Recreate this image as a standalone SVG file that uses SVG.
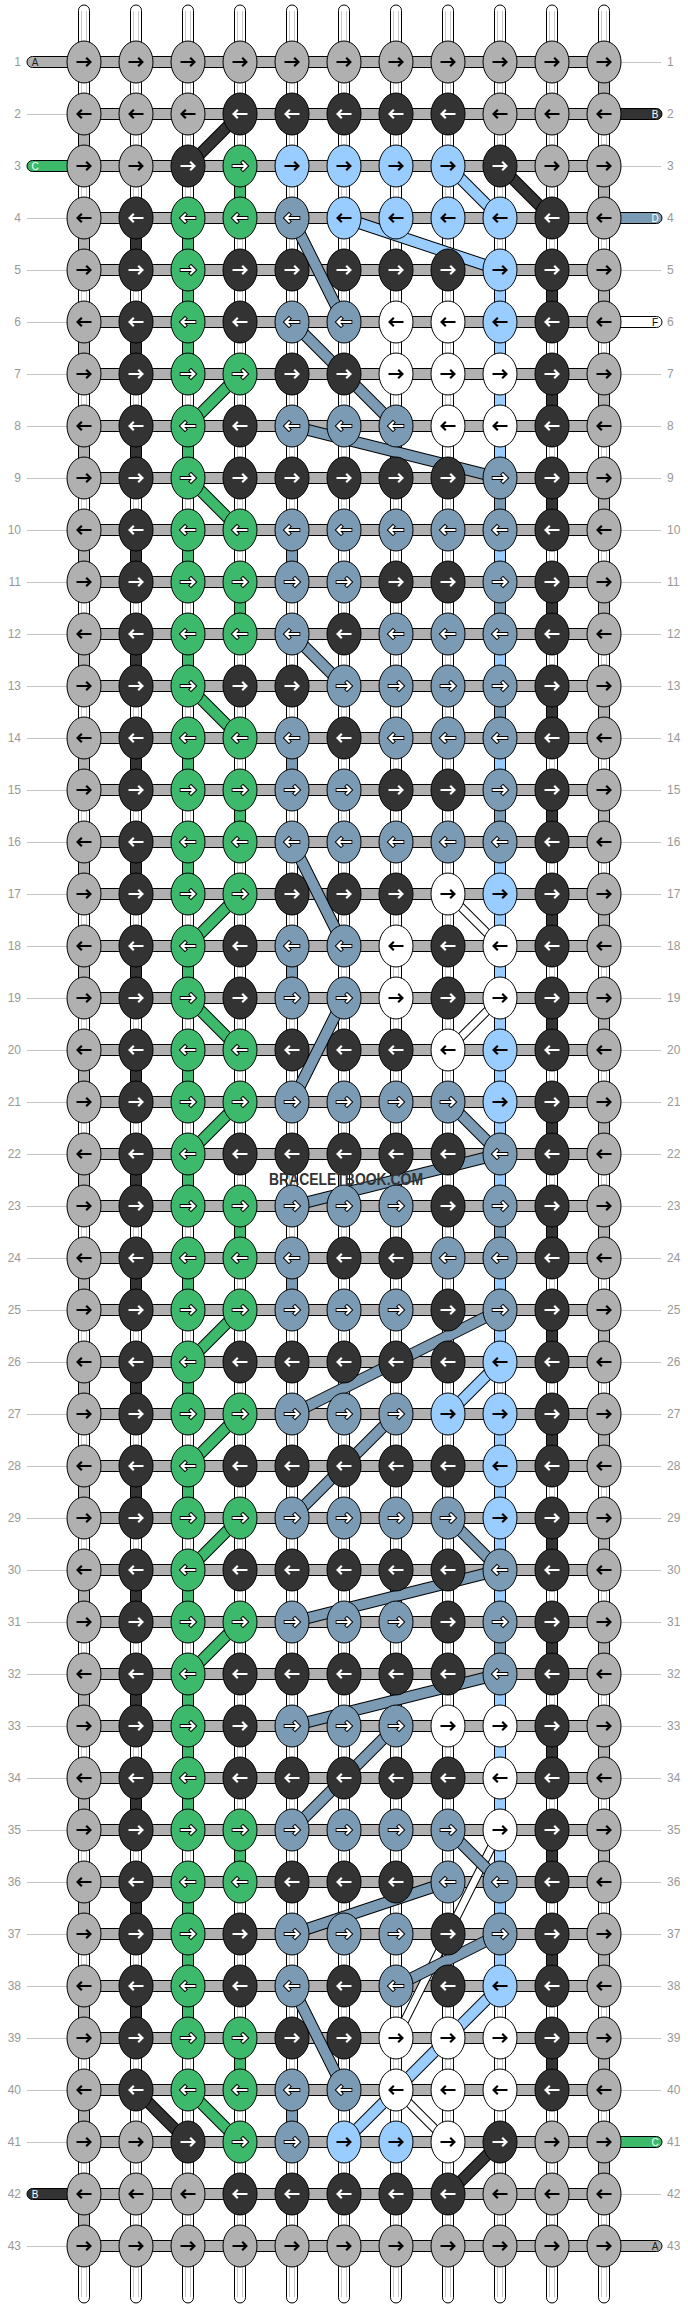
<svg xmlns="http://www.w3.org/2000/svg" width="688" height="2308" viewBox="0 0 688 2308">
<style>
.G{fill:#b0b0b0;color:#000;stroke:none}
.D{fill:#333;color:#fff;stroke:none}
.N{fill:#3cb96a;color:#fff;stroke:#000}
.B{fill:#7b9bb4;color:#fff;stroke:#000}
.L{fill:#99ccff;color:#000;stroke:none}
.W{fill:#fff;color:#000;stroke:none}
.num{font-family:"Liberation Sans",Arial,sans-serif;font-size:12px;fill:#999}
.nl{text-anchor:end}
.lab{font-family:"Liberation Sans",Arial,sans-serif;font-size:10px;text-anchor:middle}
.guide{fill:none;stroke:#c4c4c4;stroke-width:1}
.warp{fill:#fff;stroke:#000;stroke-width:1}
.wi{fill:none;stroke:#c8c8c8;stroke-width:1}
.seg{stroke:#000;stroke-width:1}
.bar{fill:#b0b0b0;stroke:#000;stroke-width:1}
.bo{fill:none;stroke:#000;stroke-width:12}
.bow{fill:none;stroke:#000;stroke-width:9}
.band{fill:none;stroke-width:10}
.bandw{fill:none;stroke:#fff;stroke-width:7}
.wm{font-family:"Liberation Sans",Arial,sans-serif;font-weight:bold;font-size:16px;fill:#333}
</style>
<defs>
<g id="R"><ellipse rx="17" ry="21" stroke="#000" stroke-width="1"/><path d="M-8.3 0H6M1.6-4.9 6.4 0 1.6 4.9" fill="none" stroke-width="4.2"/><path d="M-7.5 0H6M2.2-4.2 6.4 0 2.2 4.2" fill="none" stroke="currentColor" stroke-width="2.2"/></g>
<g id="L"><ellipse rx="17" ry="21" stroke="#000" stroke-width="1"/><path d="M8.3 0H-6M-1.6-4.9-6.4 0-1.6 4.9" fill="none" stroke-width="4.2"/><path d="M7.5 0H-6M-2.2-4.2-6.4 0-2.2 4.2" fill="none" stroke="currentColor" stroke-width="2.2"/></g>
</defs>
<g id="guides">
<path class="guide" d="M27 62.5H661M27 114.5H661M27 166.5H661M27 218.5H661M27 270.5H661M27 322.5H661M27 374.5H661M27 426.5H661M27 478.5H661M27 530.5H661M27 582.5H661M27 634.5H661M27 686.5H661M27 738.5H661M27 790.5H661M27 842.5H661M27 894.5H661M27 946.5H661M27 998.5H661M27 1050.5H661M27 1102.5H661M27 1154.5H661M27 1206.5H661M27 1258.5H661M27 1310.5H661M27 1362.5H661M27 1414.5H661M27 1466.5H661M27 1518.5H661M27 1570.5H661M27 1622.5H661M27 1674.5H661M27 1726.5H661M27 1778.5H661M27 1830.5H661M27 1882.5H661M27 1934.5H661M27 1986.5H661M27 2038.5H661M27 2090.5H661M27 2142.5H661M27 2194.5H661M27 2246.5H661"/>
</g>
<g id="connectors">
<g id="warps" class="warp">
<rect x="78.5" y="5" width="11" height="2298" rx="5.5"/>
<rect x="130.5" y="5" width="11" height="2298" rx="5.5"/>
<rect x="182.5" y="5" width="11" height="2298" rx="5.5"/>
<rect x="234.5" y="5" width="11" height="2298" rx="5.5"/>
<rect x="286.5" y="5" width="11" height="2298" rx="5.5"/>
<rect x="338.5" y="5" width="11" height="2298" rx="5.5"/>
<rect x="390.5" y="5" width="11" height="2298" rx="5.5"/>
<rect x="442.5" y="5" width="11" height="2298" rx="5.5"/>
<rect x="494.5" y="5" width="11" height="2298" rx="5.5"/>
<rect x="546.5" y="5" width="11" height="2298" rx="5.5"/>
<rect x="598.5" y="5" width="11" height="2298" rx="5.5"/>
</g>
<path class="wi" d="M81.5 11V2297M86.5 11V2297M133.5 11V2297M138.5 11V2297M185.5 11V2297M190.5 11V2297M237.5 11V2297M242.5 11V2297M289.5 11V2297M294.5 11V2297M341.5 11V2297M346.5 11V2297M393.5 11V2297M398.5 11V2297M445.5 11V2297M450.5 11V2297M497.5 11V2297M502.5 11V2297M549.5 11V2297M554.5 11V2297M601.5 11V2297M606.5 11V2297"/>
<path id="seg-gray" class="seg" fill="#b0b0b0" d="M78.5 114h11v52h-11zM78.5 218h11v52h-11zM78.5 322h11v52h-11zM78.5 426h11v52h-11zM78.5 530h11v52h-11zM78.5 634h11v52h-11zM78.5 738h11v52h-11zM78.5 842h11v52h-11zM78.5 946h11v52h-11zM78.5 1050h11v52h-11zM78.5 1154h11v52h-11zM78.5 1258h11v52h-11zM78.5 1362h11v52h-11zM78.5 1466h11v52h-11zM78.5 1570h11v52h-11zM78.5 1674h11v52h-11zM78.5 1778h11v52h-11zM78.5 1882h11v52h-11zM78.5 1986h11v52h-11zM78.5 2090h11v52h-11zM78.5 2194h11v52h-11zM598.5 62h11v52h-11zM598.5 166h11v52h-11zM598.5 270h11v52h-11zM598.5 374h11v52h-11zM598.5 478h11v52h-11zM598.5 582h11v52h-11zM598.5 686h11v52h-11zM598.5 790h11v52h-11zM598.5 894h11v52h-11zM598.5 998h11v52h-11zM598.5 1102h11v52h-11zM598.5 1206h11v52h-11zM598.5 1310h11v52h-11zM598.5 1414h11v52h-11zM598.5 1518h11v52h-11zM598.5 1622h11v52h-11zM598.5 1726h11v52h-11zM598.5 1830h11v52h-11zM598.5 1934h11v52h-11zM598.5 2038h11v52h-11zM598.5 2142h11v52h-11z"/>
<path id="seg-dark" class="seg" fill="#333" d="M130.5 218h11v52h-11zM130.5 322h11v52h-11zM130.5 426h11v52h-11zM130.5 530h11v52h-11zM130.5 634h11v52h-11zM130.5 738h11v52h-11zM130.5 842h11v52h-11zM130.5 946h11v52h-11zM130.5 1050h11v52h-11zM130.5 1154h11v52h-11zM130.5 1258h11v52h-11zM130.5 1362h11v52h-11zM130.5 1466h11v52h-11zM130.5 1570h11v52h-11zM130.5 1674h11v52h-11zM130.5 1778h11v52h-11zM130.5 1882h11v52h-11zM130.5 1986h11v52h-11zM546.5 270h11v52h-11zM546.5 374h11v52h-11zM546.5 478h11v52h-11zM546.5 582h11v52h-11zM546.5 686h11v52h-11zM546.5 790h11v52h-11zM546.5 894h11v52h-11zM546.5 998h11v52h-11zM546.5 1102h11v52h-11zM546.5 1206h11v52h-11zM546.5 1310h11v52h-11zM546.5 1414h11v52h-11zM546.5 1518h11v52h-11zM546.5 1622h11v52h-11zM546.5 1726h11v52h-11zM546.5 1830h11v52h-11zM546.5 1934h11v52h-11zM546.5 2038h11v52h-11z"/>
<path id="seg-green" class="seg" fill="#3cb96a" d="M182.5 218h11v156h-11zM182.5 426h11v52h-11zM182.5 530h11v52h-11zM182.5 634h11v52h-11zM182.5 738h11v52h-11zM182.5 842h11v52h-11zM182.5 946h11v52h-11zM182.5 1050h11v52h-11zM182.5 1154h11v52h-11zM182.5 1258h11v52h-11zM182.5 1362h11v52h-11zM182.5 1466h11v52h-11zM182.5 1570h11v52h-11zM182.5 1674h11v156h-11zM182.5 1882h11v156h-11zM234.5 166h11v52h-11zM234.5 582h11v52h-11zM234.5 790h11v52h-11zM234.5 1206h11v52h-11zM234.5 1830h11v52h-11zM234.5 2038h11v52h-11z"/>
<path id="seg-bluegray" class="seg" fill="#7b9bb4" d="M494.5 478h11v52h-11zM494.5 582h11v52h-11zM494.5 686h11v52h-11zM494.5 790h11v52h-11zM494.5 1206h11v52h-11zM494.5 1622h11v52h-11zM286.5 530h11v52h-11zM286.5 738h11v52h-11zM286.5 946h11v52h-11zM286.5 1258h11v52h-11zM286.5 2090h11v52h-11z"/>
<path id="seg-lightblue" class="seg" fill="#99ccff" d="M494.5 270h11v208h-11zM494.5 530h11v52h-11zM494.5 634h11v52h-11zM494.5 738h11v52h-11zM494.5 842h11v364h-11zM494.5 1258h11v104h-11zM494.5 1414h11v208h-11zM494.5 1674h11v312h-11z"/>
<path id="weft-bars" class="bar" d="M84 56.5h520v11h-520zM84 108.5h520v11h-520zM84 160.5h520v11h-520zM84 212.5h520v11h-520zM84 264.5h520v11h-520zM84 316.5h520v11h-520zM84 368.5h520v11h-520zM84 420.5h520v11h-520zM84 472.5h520v11h-520zM84 524.5h520v11h-520zM84 576.5h520v11h-520zM84 628.5h520v11h-520zM84 680.5h520v11h-520zM84 732.5h520v11h-520zM84 784.5h520v11h-520zM84 836.5h520v11h-520zM84 888.5h520v11h-520zM84 940.5h520v11h-520zM84 992.5h520v11h-520zM84 1044.5h520v11h-520zM84 1096.5h520v11h-520zM84 1148.5h520v11h-520zM84 1200.5h520v11h-520zM84 1252.5h520v11h-520zM84 1304.5h520v11h-520zM84 1356.5h520v11h-520zM84 1408.5h520v11h-520zM84 1460.5h520v11h-520zM84 1512.5h520v11h-520zM84 1564.5h520v11h-520zM84 1616.5h520v11h-520zM84 1668.5h520v11h-520zM84 1720.5h520v11h-520zM84 1772.5h520v11h-520zM84 1824.5h520v11h-520zM84 1876.5h520v11h-520zM84 1928.5h520v11h-520zM84 1980.5h520v11h-520zM84 2032.5h520v11h-520zM84 2084.5h520v11h-520zM84 2136.5h520v11h-520zM84 2188.5h520v11h-520zM84 2240.5h520v11h-520z"/>
<g id="stubs" class="seg">
<rect x="27" y="56.5" width="70" height="11" rx="5.5" fill="#b0b0b0"/>
<rect x="27" y="160.5" width="70" height="11" rx="5.5" fill="#3cb96a"/>
<rect x="27" y="2188.5" width="70" height="11" rx="5.5" fill="#333"/>
<rect x="590" y="108.5" width="72" height="11" rx="5.5" fill="#333"/>
<rect x="590" y="212.5" width="72" height="11" rx="5.5" fill="#7b9bb4"/>
<rect x="590" y="316.5" width="72" height="11" rx="5.5" fill="#fff"/>
<rect x="590" y="2136.5" width="72" height="11" rx="5.5" fill="#3cb96a"/>
<rect x="590" y="2240.5" width="72" height="11" rx="5.5" fill="#b0b0b0"/>
</g>
<g id="bands">
<path class="bow" d="M448 894L500 946M500 998L448 1050M500 1830L396 2038M396 2090L448 2142"/>
<path class="bandw" d="M448 894L500 946M500 998L448 1050M500 1830L396 2038M396 2090L448 2142"/>
<path class="bo" d="M448 166L500 218M344 218L500 270M500 1362L448 1414M500 1986L344 2142"/>
<path class="band" stroke="#99ccff" d="M448 166L500 218M344 218L500 270M500 1362L448 1414M500 1986L344 2142"/>
<path class="bo" d="M292 218L344 322M292 322L396 426M292 426L500 478M292 634L344 686M292 842L344 946M344 998L292 1102M448 1102L500 1154M500 1154L292 1206M500 1310L292 1414M396 1414L292 1518M448 1518L500 1570M500 1570L292 1622M500 1674L292 1726M396 1726L292 1830M448 1830L500 1882M448 1882L292 1934M500 1934L396 1986M292 1986L344 2090"/>
<path class="band" stroke="#7b9bb4" d="M292 218L344 322M292 322L396 426M292 426L500 478M292 634L344 686M292 842L344 946M344 998L292 1102M448 1102L500 1154M500 1154L292 1206M500 1310L292 1414M396 1414L292 1518M448 1518L500 1570M500 1570L292 1622M500 1674L292 1726M396 1726L292 1830M448 1830L500 1882M448 1882L292 1934M500 1934L396 1986M292 1986L344 2090"/>
<path class="bo" d="M240 374L188 426M188 478L240 530M188 686L240 738M240 894L188 946M188 998L240 1050M240 1102L188 1154M240 1310L188 1362M240 1414L188 1466M240 1518L188 1570M240 1622L188 1674M188 2090L240 2142"/>
<path class="band" stroke="#3cb96a" d="M240 374L188 426M188 478L240 530M188 686L240 738M240 894L188 946M188 998L240 1050M240 1102L188 1154M240 1310L188 1362M240 1414L188 1466M240 1518L188 1570M240 1622L188 1674M188 2090L240 2142"/>
<path class="bo" d="M240 114L188 166M500 166L552 218M136 2090L188 2142M500 2142L448 2194"/>
<path class="band" stroke="#333" d="M240 114L188 166M500 166L552 218M136 2090L188 2142M500 2142L448 2194"/>
</g>
</g>
<g id="nodes">
<g id="row1" transform="translate(0 62)"><g id="n1-1" class="G"><use href="#R" x="84"/></g><g id="n1-2" class="G"><use href="#R" x="136"/></g><g id="n1-3" class="G"><use href="#R" x="188"/></g><g id="n1-4" class="G"><use href="#R" x="240"/></g><g id="n1-5" class="G"><use href="#R" x="292"/></g><g id="n1-6" class="G"><use href="#R" x="344"/></g><g id="n1-7" class="G"><use href="#R" x="396"/></g><g id="n1-8" class="G"><use href="#R" x="448"/></g><g id="n1-9" class="G"><use href="#R" x="500"/></g><g id="n1-10" class="G"><use href="#R" x="552"/></g><g id="n1-11" class="G"><use href="#R" x="604"/></g></g>
<g id="row2" transform="translate(0 114)"><g id="n2-1" class="G"><use href="#L" x="84"/></g><g id="n2-2" class="G"><use href="#L" x="136"/></g><g id="n2-3" class="G"><use href="#L" x="188"/></g><g id="n2-4" class="D"><use href="#L" x="240"/></g><g id="n2-5" class="D"><use href="#L" x="292"/></g><g id="n2-6" class="D"><use href="#L" x="344"/></g><g id="n2-7" class="D"><use href="#L" x="396"/></g><g id="n2-8" class="D"><use href="#L" x="448"/></g><g id="n2-9" class="G"><use href="#L" x="500"/></g><g id="n2-10" class="G"><use href="#L" x="552"/></g><g id="n2-11" class="G"><use href="#L" x="604"/></g></g>
<g id="row3" transform="translate(0 166)"><g id="n3-1" class="G"><use href="#R" x="84"/></g><g id="n3-2" class="G"><use href="#R" x="136"/></g><g id="n3-3" class="D"><use href="#R" x="188"/></g><g id="n3-4" class="N"><use href="#R" x="240"/></g><g id="n3-5" class="L"><use href="#R" x="292"/></g><g id="n3-6" class="L"><use href="#R" x="344"/></g><g id="n3-7" class="L"><use href="#R" x="396"/></g><g id="n3-8" class="L"><use href="#R" x="448"/></g><g id="n3-9" class="D"><use href="#R" x="500"/></g><g id="n3-10" class="G"><use href="#R" x="552"/></g><g id="n3-11" class="G"><use href="#R" x="604"/></g></g>
<g id="row4" transform="translate(0 218)"><g id="n4-1" class="G"><use href="#L" x="84"/></g><g id="n4-2" class="D"><use href="#L" x="136"/></g><g id="n4-3" class="N"><use href="#L" x="188"/></g><g id="n4-4" class="N"><use href="#L" x="240"/></g><g id="n4-5" class="B"><use href="#L" x="292"/></g><g id="n4-6" class="L"><use href="#L" x="344"/></g><g id="n4-7" class="L"><use href="#L" x="396"/></g><g id="n4-8" class="L"><use href="#L" x="448"/></g><g id="n4-9" class="L"><use href="#L" x="500"/></g><g id="n4-10" class="D"><use href="#L" x="552"/></g><g id="n4-11" class="G"><use href="#L" x="604"/></g></g>
<g id="row5" transform="translate(0 270)"><g id="n5-1" class="G"><use href="#R" x="84"/></g><g id="n5-2" class="D"><use href="#R" x="136"/></g><g id="n5-3" class="N"><use href="#R" x="188"/></g><g id="n5-4" class="D"><use href="#R" x="240"/></g><g id="n5-5" class="D"><use href="#R" x="292"/></g><g id="n5-6" class="D"><use href="#R" x="344"/></g><g id="n5-7" class="D"><use href="#R" x="396"/></g><g id="n5-8" class="D"><use href="#R" x="448"/></g><g id="n5-9" class="L"><use href="#R" x="500"/></g><g id="n5-10" class="D"><use href="#R" x="552"/></g><g id="n5-11" class="G"><use href="#R" x="604"/></g></g>
<g id="row6" transform="translate(0 322)"><g id="n6-1" class="G"><use href="#L" x="84"/></g><g id="n6-2" class="D"><use href="#L" x="136"/></g><g id="n6-3" class="N"><use href="#L" x="188"/></g><g id="n6-4" class="D"><use href="#L" x="240"/></g><g id="n6-5" class="B"><use href="#L" x="292"/></g><g id="n6-6" class="B"><use href="#L" x="344"/></g><g id="n6-7" class="W"><use href="#L" x="396"/></g><g id="n6-8" class="W"><use href="#L" x="448"/></g><g id="n6-9" class="L"><use href="#L" x="500"/></g><g id="n6-10" class="D"><use href="#L" x="552"/></g><g id="n6-11" class="G"><use href="#L" x="604"/></g></g>
<g id="row7" transform="translate(0 374)"><g id="n7-1" class="G"><use href="#R" x="84"/></g><g id="n7-2" class="D"><use href="#R" x="136"/></g><g id="n7-3" class="N"><use href="#R" x="188"/></g><g id="n7-4" class="N"><use href="#R" x="240"/></g><g id="n7-5" class="D"><use href="#R" x="292"/></g><g id="n7-6" class="D"><use href="#R" x="344"/></g><g id="n7-7" class="W"><use href="#R" x="396"/></g><g id="n7-8" class="W"><use href="#R" x="448"/></g><g id="n7-9" class="W"><use href="#R" x="500"/></g><g id="n7-10" class="D"><use href="#R" x="552"/></g><g id="n7-11" class="G"><use href="#R" x="604"/></g></g>
<g id="row8" transform="translate(0 426)"><g id="n8-1" class="G"><use href="#L" x="84"/></g><g id="n8-2" class="D"><use href="#L" x="136"/></g><g id="n8-3" class="N"><use href="#L" x="188"/></g><g id="n8-4" class="D"><use href="#L" x="240"/></g><g id="n8-5" class="B"><use href="#L" x="292"/></g><g id="n8-6" class="B"><use href="#L" x="344"/></g><g id="n8-7" class="B"><use href="#L" x="396"/></g><g id="n8-8" class="W"><use href="#L" x="448"/></g><g id="n8-9" class="W"><use href="#L" x="500"/></g><g id="n8-10" class="D"><use href="#L" x="552"/></g><g id="n8-11" class="G"><use href="#L" x="604"/></g></g>
<g id="row9" transform="translate(0 478)"><g id="n9-1" class="G"><use href="#R" x="84"/></g><g id="n9-2" class="D"><use href="#R" x="136"/></g><g id="n9-3" class="N"><use href="#R" x="188"/></g><g id="n9-4" class="D"><use href="#R" x="240"/></g><g id="n9-5" class="D"><use href="#R" x="292"/></g><g id="n9-6" class="D"><use href="#R" x="344"/></g><g id="n9-7" class="D"><use href="#R" x="396"/></g><g id="n9-8" class="D"><use href="#R" x="448"/></g><g id="n9-9" class="B"><use href="#R" x="500"/></g><g id="n9-10" class="D"><use href="#R" x="552"/></g><g id="n9-11" class="G"><use href="#R" x="604"/></g></g>
<g id="row10" transform="translate(0 530)"><g id="n10-1" class="G"><use href="#L" x="84"/></g><g id="n10-2" class="D"><use href="#L" x="136"/></g><g id="n10-3" class="N"><use href="#L" x="188"/></g><g id="n10-4" class="N"><use href="#L" x="240"/></g><g id="n10-5" class="B"><use href="#L" x="292"/></g><g id="n10-6" class="B"><use href="#L" x="344"/></g><g id="n10-7" class="B"><use href="#L" x="396"/></g><g id="n10-8" class="B"><use href="#L" x="448"/></g><g id="n10-9" class="B"><use href="#L" x="500"/></g><g id="n10-10" class="D"><use href="#L" x="552"/></g><g id="n10-11" class="G"><use href="#L" x="604"/></g></g>
<g id="row11" transform="translate(0 582)"><g id="n11-1" class="G"><use href="#R" x="84"/></g><g id="n11-2" class="D"><use href="#R" x="136"/></g><g id="n11-3" class="N"><use href="#R" x="188"/></g><g id="n11-4" class="N"><use href="#R" x="240"/></g><g id="n11-5" class="B"><use href="#R" x="292"/></g><g id="n11-6" class="B"><use href="#R" x="344"/></g><g id="n11-7" class="D"><use href="#R" x="396"/></g><g id="n11-8" class="D"><use href="#R" x="448"/></g><g id="n11-9" class="B"><use href="#R" x="500"/></g><g id="n11-10" class="D"><use href="#R" x="552"/></g><g id="n11-11" class="G"><use href="#R" x="604"/></g></g>
<g id="row12" transform="translate(0 634)"><g id="n12-1" class="G"><use href="#L" x="84"/></g><g id="n12-2" class="D"><use href="#L" x="136"/></g><g id="n12-3" class="N"><use href="#L" x="188"/></g><g id="n12-4" class="N"><use href="#L" x="240"/></g><g id="n12-5" class="B"><use href="#L" x="292"/></g><g id="n12-6" class="D"><use href="#L" x="344"/></g><g id="n12-7" class="B"><use href="#L" x="396"/></g><g id="n12-8" class="B"><use href="#L" x="448"/></g><g id="n12-9" class="B"><use href="#L" x="500"/></g><g id="n12-10" class="D"><use href="#L" x="552"/></g><g id="n12-11" class="G"><use href="#L" x="604"/></g></g>
<g id="row13" transform="translate(0 686)"><g id="n13-1" class="G"><use href="#R" x="84"/></g><g id="n13-2" class="D"><use href="#R" x="136"/></g><g id="n13-3" class="N"><use href="#R" x="188"/></g><g id="n13-4" class="D"><use href="#R" x="240"/></g><g id="n13-5" class="D"><use href="#R" x="292"/></g><g id="n13-6" class="B"><use href="#R" x="344"/></g><g id="n13-7" class="B"><use href="#R" x="396"/></g><g id="n13-8" class="B"><use href="#R" x="448"/></g><g id="n13-9" class="B"><use href="#R" x="500"/></g><g id="n13-10" class="D"><use href="#R" x="552"/></g><g id="n13-11" class="G"><use href="#R" x="604"/></g></g>
<g id="row14" transform="translate(0 738)"><g id="n14-1" class="G"><use href="#L" x="84"/></g><g id="n14-2" class="D"><use href="#L" x="136"/></g><g id="n14-3" class="N"><use href="#L" x="188"/></g><g id="n14-4" class="N"><use href="#L" x="240"/></g><g id="n14-5" class="B"><use href="#L" x="292"/></g><g id="n14-6" class="D"><use href="#L" x="344"/></g><g id="n14-7" class="B"><use href="#L" x="396"/></g><g id="n14-8" class="B"><use href="#L" x="448"/></g><g id="n14-9" class="B"><use href="#L" x="500"/></g><g id="n14-10" class="D"><use href="#L" x="552"/></g><g id="n14-11" class="G"><use href="#L" x="604"/></g></g>
<g id="row15" transform="translate(0 790)"><g id="n15-1" class="G"><use href="#R" x="84"/></g><g id="n15-2" class="D"><use href="#R" x="136"/></g><g id="n15-3" class="N"><use href="#R" x="188"/></g><g id="n15-4" class="N"><use href="#R" x="240"/></g><g id="n15-5" class="B"><use href="#R" x="292"/></g><g id="n15-6" class="B"><use href="#R" x="344"/></g><g id="n15-7" class="D"><use href="#R" x="396"/></g><g id="n15-8" class="D"><use href="#R" x="448"/></g><g id="n15-9" class="B"><use href="#R" x="500"/></g><g id="n15-10" class="D"><use href="#R" x="552"/></g><g id="n15-11" class="G"><use href="#R" x="604"/></g></g>
<g id="row16" transform="translate(0 842)"><g id="n16-1" class="G"><use href="#L" x="84"/></g><g id="n16-2" class="D"><use href="#L" x="136"/></g><g id="n16-3" class="N"><use href="#L" x="188"/></g><g id="n16-4" class="N"><use href="#L" x="240"/></g><g id="n16-5" class="B"><use href="#L" x="292"/></g><g id="n16-6" class="B"><use href="#L" x="344"/></g><g id="n16-7" class="B"><use href="#L" x="396"/></g><g id="n16-8" class="B"><use href="#L" x="448"/></g><g id="n16-9" class="B"><use href="#L" x="500"/></g><g id="n16-10" class="D"><use href="#L" x="552"/></g><g id="n16-11" class="G"><use href="#L" x="604"/></g></g>
<g id="row17" transform="translate(0 894)"><g id="n17-1" class="G"><use href="#R" x="84"/></g><g id="n17-2" class="D"><use href="#R" x="136"/></g><g id="n17-3" class="N"><use href="#R" x="188"/></g><g id="n17-4" class="N"><use href="#R" x="240"/></g><g id="n17-5" class="D"><use href="#R" x="292"/></g><g id="n17-6" class="D"><use href="#R" x="344"/></g><g id="n17-7" class="D"><use href="#R" x="396"/></g><g id="n17-8" class="W"><use href="#R" x="448"/></g><g id="n17-9" class="L"><use href="#R" x="500"/></g><g id="n17-10" class="D"><use href="#R" x="552"/></g><g id="n17-11" class="G"><use href="#R" x="604"/></g></g>
<g id="row18" transform="translate(0 946)"><g id="n18-1" class="G"><use href="#L" x="84"/></g><g id="n18-2" class="D"><use href="#L" x="136"/></g><g id="n18-3" class="N"><use href="#L" x="188"/></g><g id="n18-4" class="D"><use href="#L" x="240"/></g><g id="n18-5" class="B"><use href="#L" x="292"/></g><g id="n18-6" class="B"><use href="#L" x="344"/></g><g id="n18-7" class="W"><use href="#L" x="396"/></g><g id="n18-8" class="D"><use href="#L" x="448"/></g><g id="n18-9" class="W"><use href="#L" x="500"/></g><g id="n18-10" class="D"><use href="#L" x="552"/></g><g id="n18-11" class="G"><use href="#L" x="604"/></g></g>
<g id="row19" transform="translate(0 998)"><g id="n19-1" class="G"><use href="#R" x="84"/></g><g id="n19-2" class="D"><use href="#R" x="136"/></g><g id="n19-3" class="N"><use href="#R" x="188"/></g><g id="n19-4" class="D"><use href="#R" x="240"/></g><g id="n19-5" class="B"><use href="#R" x="292"/></g><g id="n19-6" class="B"><use href="#R" x="344"/></g><g id="n19-7" class="W"><use href="#R" x="396"/></g><g id="n19-8" class="D"><use href="#R" x="448"/></g><g id="n19-9" class="W"><use href="#R" x="500"/></g><g id="n19-10" class="D"><use href="#R" x="552"/></g><g id="n19-11" class="G"><use href="#R" x="604"/></g></g>
<g id="row20" transform="translate(0 1050)"><g id="n20-1" class="G"><use href="#L" x="84"/></g><g id="n20-2" class="D"><use href="#L" x="136"/></g><g id="n20-3" class="N"><use href="#L" x="188"/></g><g id="n20-4" class="N"><use href="#L" x="240"/></g><g id="n20-5" class="D"><use href="#L" x="292"/></g><g id="n20-6" class="D"><use href="#L" x="344"/></g><g id="n20-7" class="D"><use href="#L" x="396"/></g><g id="n20-8" class="W"><use href="#L" x="448"/></g><g id="n20-9" class="L"><use href="#L" x="500"/></g><g id="n20-10" class="D"><use href="#L" x="552"/></g><g id="n20-11" class="G"><use href="#L" x="604"/></g></g>
<g id="row21" transform="translate(0 1102)"><g id="n21-1" class="G"><use href="#R" x="84"/></g><g id="n21-2" class="D"><use href="#R" x="136"/></g><g id="n21-3" class="N"><use href="#R" x="188"/></g><g id="n21-4" class="N"><use href="#R" x="240"/></g><g id="n21-5" class="B"><use href="#R" x="292"/></g><g id="n21-6" class="B"><use href="#R" x="344"/></g><g id="n21-7" class="B"><use href="#R" x="396"/></g><g id="n21-8" class="B"><use href="#R" x="448"/></g><g id="n21-9" class="L"><use href="#R" x="500"/></g><g id="n21-10" class="D"><use href="#R" x="552"/></g><g id="n21-11" class="G"><use href="#R" x="604"/></g></g>
<g id="row22" transform="translate(0 1154)"><g id="n22-1" class="G"><use href="#L" x="84"/></g><g id="n22-2" class="D"><use href="#L" x="136"/></g><g id="n22-3" class="N"><use href="#L" x="188"/></g><g id="n22-4" class="D"><use href="#L" x="240"/></g><g id="n22-5" class="D"><use href="#L" x="292"/></g><g id="n22-6" class="D"><use href="#L" x="344"/></g><g id="n22-7" class="D"><use href="#L" x="396"/></g><g id="n22-8" class="D"><use href="#L" x="448"/></g><g id="n22-9" class="B"><use href="#L" x="500"/></g><g id="n22-10" class="D"><use href="#L" x="552"/></g><g id="n22-11" class="G"><use href="#L" x="604"/></g></g>
<g id="row23" transform="translate(0 1206)"><g id="n23-1" class="G"><use href="#R" x="84"/></g><g id="n23-2" class="D"><use href="#R" x="136"/></g><g id="n23-3" class="N"><use href="#R" x="188"/></g><g id="n23-4" class="N"><use href="#R" x="240"/></g><g id="n23-5" class="B"><use href="#R" x="292"/></g><g id="n23-6" class="B"><use href="#R" x="344"/></g><g id="n23-7" class="B"><use href="#R" x="396"/></g><g id="n23-8" class="D"><use href="#R" x="448"/></g><g id="n23-9" class="B"><use href="#R" x="500"/></g><g id="n23-10" class="D"><use href="#R" x="552"/></g><g id="n23-11" class="G"><use href="#R" x="604"/></g></g>
<g id="row24" transform="translate(0 1258)"><g id="n24-1" class="G"><use href="#L" x="84"/></g><g id="n24-2" class="D"><use href="#L" x="136"/></g><g id="n24-3" class="N"><use href="#L" x="188"/></g><g id="n24-4" class="N"><use href="#L" x="240"/></g><g id="n24-5" class="B"><use href="#L" x="292"/></g><g id="n24-6" class="D"><use href="#L" x="344"/></g><g id="n24-7" class="D"><use href="#L" x="396"/></g><g id="n24-8" class="B"><use href="#L" x="448"/></g><g id="n24-9" class="B"><use href="#L" x="500"/></g><g id="n24-10" class="D"><use href="#L" x="552"/></g><g id="n24-11" class="G"><use href="#L" x="604"/></g></g>
<g id="row25" transform="translate(0 1310)"><g id="n25-1" class="G"><use href="#R" x="84"/></g><g id="n25-2" class="D"><use href="#R" x="136"/></g><g id="n25-3" class="N"><use href="#R" x="188"/></g><g id="n25-4" class="N"><use href="#R" x="240"/></g><g id="n25-5" class="B"><use href="#R" x="292"/></g><g id="n25-6" class="B"><use href="#R" x="344"/></g><g id="n25-7" class="B"><use href="#R" x="396"/></g><g id="n25-8" class="D"><use href="#R" x="448"/></g><g id="n25-9" class="B"><use href="#R" x="500"/></g><g id="n25-10" class="D"><use href="#R" x="552"/></g><g id="n25-11" class="G"><use href="#R" x="604"/></g></g>
<g id="row26" transform="translate(0 1362)"><g id="n26-1" class="G"><use href="#L" x="84"/></g><g id="n26-2" class="D"><use href="#L" x="136"/></g><g id="n26-3" class="N"><use href="#L" x="188"/></g><g id="n26-4" class="D"><use href="#L" x="240"/></g><g id="n26-5" class="D"><use href="#L" x="292"/></g><g id="n26-6" class="D"><use href="#L" x="344"/></g><g id="n26-7" class="D"><use href="#L" x="396"/></g><g id="n26-8" class="D"><use href="#L" x="448"/></g><g id="n26-9" class="L"><use href="#L" x="500"/></g><g id="n26-10" class="D"><use href="#L" x="552"/></g><g id="n26-11" class="G"><use href="#L" x="604"/></g></g>
<g id="row27" transform="translate(0 1414)"><g id="n27-1" class="G"><use href="#R" x="84"/></g><g id="n27-2" class="D"><use href="#R" x="136"/></g><g id="n27-3" class="N"><use href="#R" x="188"/></g><g id="n27-4" class="N"><use href="#R" x="240"/></g><g id="n27-5" class="B"><use href="#R" x="292"/></g><g id="n27-6" class="B"><use href="#R" x="344"/></g><g id="n27-7" class="B"><use href="#R" x="396"/></g><g id="n27-8" class="L"><use href="#R" x="448"/></g><g id="n27-9" class="L"><use href="#R" x="500"/></g><g id="n27-10" class="D"><use href="#R" x="552"/></g><g id="n27-11" class="G"><use href="#R" x="604"/></g></g>
<g id="row28" transform="translate(0 1466)"><g id="n28-1" class="G"><use href="#L" x="84"/></g><g id="n28-2" class="D"><use href="#L" x="136"/></g><g id="n28-3" class="N"><use href="#L" x="188"/></g><g id="n28-4" class="D"><use href="#L" x="240"/></g><g id="n28-5" class="D"><use href="#L" x="292"/></g><g id="n28-6" class="D"><use href="#L" x="344"/></g><g id="n28-7" class="D"><use href="#L" x="396"/></g><g id="n28-8" class="D"><use href="#L" x="448"/></g><g id="n28-9" class="L"><use href="#L" x="500"/></g><g id="n28-10" class="D"><use href="#L" x="552"/></g><g id="n28-11" class="G"><use href="#L" x="604"/></g></g>
<g id="row29" transform="translate(0 1518)"><g id="n29-1" class="G"><use href="#R" x="84"/></g><g id="n29-2" class="D"><use href="#R" x="136"/></g><g id="n29-3" class="N"><use href="#R" x="188"/></g><g id="n29-4" class="N"><use href="#R" x="240"/></g><g id="n29-5" class="B"><use href="#R" x="292"/></g><g id="n29-6" class="B"><use href="#R" x="344"/></g><g id="n29-7" class="B"><use href="#R" x="396"/></g><g id="n29-8" class="B"><use href="#R" x="448"/></g><g id="n29-9" class="L"><use href="#R" x="500"/></g><g id="n29-10" class="D"><use href="#R" x="552"/></g><g id="n29-11" class="G"><use href="#R" x="604"/></g></g>
<g id="row30" transform="translate(0 1570)"><g id="n30-1" class="G"><use href="#L" x="84"/></g><g id="n30-2" class="D"><use href="#L" x="136"/></g><g id="n30-3" class="N"><use href="#L" x="188"/></g><g id="n30-4" class="D"><use href="#L" x="240"/></g><g id="n30-5" class="D"><use href="#L" x="292"/></g><g id="n30-6" class="D"><use href="#L" x="344"/></g><g id="n30-7" class="D"><use href="#L" x="396"/></g><g id="n30-8" class="D"><use href="#L" x="448"/></g><g id="n30-9" class="B"><use href="#L" x="500"/></g><g id="n30-10" class="D"><use href="#L" x="552"/></g><g id="n30-11" class="G"><use href="#L" x="604"/></g></g>
<g id="row31" transform="translate(0 1622)"><g id="n31-1" class="G"><use href="#R" x="84"/></g><g id="n31-2" class="D"><use href="#R" x="136"/></g><g id="n31-3" class="N"><use href="#R" x="188"/></g><g id="n31-4" class="N"><use href="#R" x="240"/></g><g id="n31-5" class="B"><use href="#R" x="292"/></g><g id="n31-6" class="B"><use href="#R" x="344"/></g><g id="n31-7" class="B"><use href="#R" x="396"/></g><g id="n31-8" class="D"><use href="#R" x="448"/></g><g id="n31-9" class="B"><use href="#R" x="500"/></g><g id="n31-10" class="D"><use href="#R" x="552"/></g><g id="n31-11" class="G"><use href="#R" x="604"/></g></g>
<g id="row32" transform="translate(0 1674)"><g id="n32-1" class="G"><use href="#L" x="84"/></g><g id="n32-2" class="D"><use href="#L" x="136"/></g><g id="n32-3" class="N"><use href="#L" x="188"/></g><g id="n32-4" class="D"><use href="#L" x="240"/></g><g id="n32-5" class="D"><use href="#L" x="292"/></g><g id="n32-6" class="D"><use href="#L" x="344"/></g><g id="n32-7" class="D"><use href="#L" x="396"/></g><g id="n32-8" class="D"><use href="#L" x="448"/></g><g id="n32-9" class="B"><use href="#L" x="500"/></g><g id="n32-10" class="D"><use href="#L" x="552"/></g><g id="n32-11" class="G"><use href="#L" x="604"/></g></g>
<g id="row33" transform="translate(0 1726)"><g id="n33-1" class="G"><use href="#R" x="84"/></g><g id="n33-2" class="D"><use href="#R" x="136"/></g><g id="n33-3" class="N"><use href="#R" x="188"/></g><g id="n33-4" class="D"><use href="#R" x="240"/></g><g id="n33-5" class="B"><use href="#R" x="292"/></g><g id="n33-6" class="B"><use href="#R" x="344"/></g><g id="n33-7" class="B"><use href="#R" x="396"/></g><g id="n33-8" class="W"><use href="#R" x="448"/></g><g id="n33-9" class="W"><use href="#R" x="500"/></g><g id="n33-10" class="D"><use href="#R" x="552"/></g><g id="n33-11" class="G"><use href="#R" x="604"/></g></g>
<g id="row34" transform="translate(0 1778)"><g id="n34-1" class="G"><use href="#L" x="84"/></g><g id="n34-2" class="D"><use href="#L" x="136"/></g><g id="n34-3" class="N"><use href="#L" x="188"/></g><g id="n34-4" class="D"><use href="#L" x="240"/></g><g id="n34-5" class="D"><use href="#L" x="292"/></g><g id="n34-6" class="D"><use href="#L" x="344"/></g><g id="n34-7" class="D"><use href="#L" x="396"/></g><g id="n34-8" class="D"><use href="#L" x="448"/></g><g id="n34-9" class="W"><use href="#L" x="500"/></g><g id="n34-10" class="D"><use href="#L" x="552"/></g><g id="n34-11" class="G"><use href="#L" x="604"/></g></g>
<g id="row35" transform="translate(0 1830)"><g id="n35-1" class="G"><use href="#R" x="84"/></g><g id="n35-2" class="D"><use href="#R" x="136"/></g><g id="n35-3" class="N"><use href="#R" x="188"/></g><g id="n35-4" class="N"><use href="#R" x="240"/></g><g id="n35-5" class="B"><use href="#R" x="292"/></g><g id="n35-6" class="B"><use href="#R" x="344"/></g><g id="n35-7" class="B"><use href="#R" x="396"/></g><g id="n35-8" class="B"><use href="#R" x="448"/></g><g id="n35-9" class="W"><use href="#R" x="500"/></g><g id="n35-10" class="D"><use href="#R" x="552"/></g><g id="n35-11" class="G"><use href="#R" x="604"/></g></g>
<g id="row36" transform="translate(0 1882)"><g id="n36-1" class="G"><use href="#L" x="84"/></g><g id="n36-2" class="D"><use href="#L" x="136"/></g><g id="n36-3" class="N"><use href="#L" x="188"/></g><g id="n36-4" class="N"><use href="#L" x="240"/></g><g id="n36-5" class="D"><use href="#L" x="292"/></g><g id="n36-6" class="D"><use href="#L" x="344"/></g><g id="n36-7" class="D"><use href="#L" x="396"/></g><g id="n36-8" class="B"><use href="#L" x="448"/></g><g id="n36-9" class="B"><use href="#L" x="500"/></g><g id="n36-10" class="D"><use href="#L" x="552"/></g><g id="n36-11" class="G"><use href="#L" x="604"/></g></g>
<g id="row37" transform="translate(0 1934)"><g id="n37-1" class="G"><use href="#R" x="84"/></g><g id="n37-2" class="D"><use href="#R" x="136"/></g><g id="n37-3" class="N"><use href="#R" x="188"/></g><g id="n37-4" class="D"><use href="#R" x="240"/></g><g id="n37-5" class="B"><use href="#R" x="292"/></g><g id="n37-6" class="B"><use href="#R" x="344"/></g><g id="n37-7" class="B"><use href="#R" x="396"/></g><g id="n37-8" class="D"><use href="#R" x="448"/></g><g id="n37-9" class="B"><use href="#R" x="500"/></g><g id="n37-10" class="D"><use href="#R" x="552"/></g><g id="n37-11" class="G"><use href="#R" x="604"/></g></g>
<g id="row38" transform="translate(0 1986)"><g id="n38-1" class="G"><use href="#L" x="84"/></g><g id="n38-2" class="D"><use href="#L" x="136"/></g><g id="n38-3" class="N"><use href="#L" x="188"/></g><g id="n38-4" class="D"><use href="#L" x="240"/></g><g id="n38-5" class="B"><use href="#L" x="292"/></g><g id="n38-6" class="D"><use href="#L" x="344"/></g><g id="n38-7" class="B"><use href="#L" x="396"/></g><g id="n38-8" class="D"><use href="#L" x="448"/></g><g id="n38-9" class="L"><use href="#L" x="500"/></g><g id="n38-10" class="D"><use href="#L" x="552"/></g><g id="n38-11" class="G"><use href="#L" x="604"/></g></g>
<g id="row39" transform="translate(0 2038)"><g id="n39-1" class="G"><use href="#R" x="84"/></g><g id="n39-2" class="D"><use href="#R" x="136"/></g><g id="n39-3" class="N"><use href="#R" x="188"/></g><g id="n39-4" class="N"><use href="#R" x="240"/></g><g id="n39-5" class="D"><use href="#R" x="292"/></g><g id="n39-6" class="D"><use href="#R" x="344"/></g><g id="n39-7" class="W"><use href="#R" x="396"/></g><g id="n39-8" class="W"><use href="#R" x="448"/></g><g id="n39-9" class="W"><use href="#R" x="500"/></g><g id="n39-10" class="D"><use href="#R" x="552"/></g><g id="n39-11" class="G"><use href="#R" x="604"/></g></g>
<g id="row40" transform="translate(0 2090)"><g id="n40-1" class="G"><use href="#L" x="84"/></g><g id="n40-2" class="D"><use href="#L" x="136"/></g><g id="n40-3" class="N"><use href="#L" x="188"/></g><g id="n40-4" class="N"><use href="#L" x="240"/></g><g id="n40-5" class="B"><use href="#L" x="292"/></g><g id="n40-6" class="B"><use href="#L" x="344"/></g><g id="n40-7" class="W"><use href="#L" x="396"/></g><g id="n40-8" class="W"><use href="#L" x="448"/></g><g id="n40-9" class="W"><use href="#L" x="500"/></g><g id="n40-10" class="D"><use href="#L" x="552"/></g><g id="n40-11" class="G"><use href="#L" x="604"/></g></g>
<g id="row41" transform="translate(0 2142)"><g id="n41-1" class="G"><use href="#R" x="84"/></g><g id="n41-2" class="G"><use href="#R" x="136"/></g><g id="n41-3" class="D"><use href="#R" x="188"/></g><g id="n41-4" class="N"><use href="#R" x="240"/></g><g id="n41-5" class="B"><use href="#R" x="292"/></g><g id="n41-6" class="L"><use href="#R" x="344"/></g><g id="n41-7" class="L"><use href="#R" x="396"/></g><g id="n41-8" class="W"><use href="#R" x="448"/></g><g id="n41-9" class="D"><use href="#R" x="500"/></g><g id="n41-10" class="G"><use href="#R" x="552"/></g><g id="n41-11" class="G"><use href="#R" x="604"/></g></g>
<g id="row42" transform="translate(0 2194)"><g id="n42-1" class="G"><use href="#L" x="84"/></g><g id="n42-2" class="G"><use href="#L" x="136"/></g><g id="n42-3" class="G"><use href="#L" x="188"/></g><g id="n42-4" class="D"><use href="#L" x="240"/></g><g id="n42-5" class="D"><use href="#L" x="292"/></g><g id="n42-6" class="D"><use href="#L" x="344"/></g><g id="n42-7" class="D"><use href="#L" x="396"/></g><g id="n42-8" class="D"><use href="#L" x="448"/></g><g id="n42-9" class="G"><use href="#L" x="500"/></g><g id="n42-10" class="G"><use href="#L" x="552"/></g><g id="n42-11" class="G"><use href="#L" x="604"/></g></g>
<g id="row43" transform="translate(0 2246)"><g id="n43-1" class="G"><use href="#R" x="84"/></g><g id="n43-2" class="G"><use href="#R" x="136"/></g><g id="n43-3" class="G"><use href="#R" x="188"/></g><g id="n43-4" class="G"><use href="#R" x="240"/></g><g id="n43-5" class="G"><use href="#R" x="292"/></g><g id="n43-6" class="G"><use href="#R" x="344"/></g><g id="n43-7" class="G"><use href="#R" x="396"/></g><g id="n43-8" class="G"><use href="#R" x="448"/></g><g id="n43-9" class="G"><use href="#R" x="500"/></g><g id="n43-10" class="G"><use href="#R" x="552"/></g><g id="n43-11" class="G"><use href="#R" x="604"/></g></g>
</g>
<g id="string-labels" class="lab">
<text x="35" y="65.6" fill="#222">A</text>
<text x="35" y="169.6" fill="#fff">C</text>
<text x="35" y="2197.6" fill="#fff">B</text>
<text x="655" y="117.6" fill="#fff">B</text>
<text x="655" y="221.6" fill="#fff">D</text>
<text x="655" y="325.6" fill="#000">F</text>
<text x="655" y="2145.6" fill="#fff">C</text>
<text x="655" y="2249.6" fill="#222">A</text>
</g>
<g id="row-numbers-left" class="num nl">
<text x="21" y="66.3">1</text><text x="21" y="118.3">2</text><text x="21" y="170.3">3</text><text x="21" y="222.3">4</text><text x="21" y="274.3">5</text><text x="21" y="326.3">6</text><text x="21" y="378.3">7</text><text x="21" y="430.3">8</text><text x="21" y="482.3">9</text><text x="21" y="534.3">10</text><text x="21" y="586.3">11</text><text x="21" y="638.3">12</text><text x="21" y="690.3">13</text><text x="21" y="742.3">14</text><text x="21" y="794.3">15</text><text x="21" y="846.3">16</text><text x="21" y="898.3">17</text><text x="21" y="950.3">18</text><text x="21" y="1002.3">19</text><text x="21" y="1054.3">20</text><text x="21" y="1106.3">21</text><text x="21" y="1158.3">22</text><text x="21" y="1210.3">23</text><text x="21" y="1262.3">24</text><text x="21" y="1314.3">25</text><text x="21" y="1366.3">26</text><text x="21" y="1418.3">27</text><text x="21" y="1470.3">28</text><text x="21" y="1522.3">29</text><text x="21" y="1574.3">30</text><text x="21" y="1626.3">31</text><text x="21" y="1678.3">32</text><text x="21" y="1730.3">33</text><text x="21" y="1782.3">34</text><text x="21" y="1834.3">35</text><text x="21" y="1886.3">36</text><text x="21" y="1938.3">37</text><text x="21" y="1990.3">38</text><text x="21" y="2042.3">39</text><text x="21" y="2094.3">40</text><text x="21" y="2146.3">41</text><text x="21" y="2198.3">42</text><text x="21" y="2250.3">43</text>
</g>
<g id="row-numbers-right" class="num">
<text x="667" y="66.3">1</text><text x="667" y="118.3">2</text><text x="667" y="170.3">3</text><text x="667" y="222.3">4</text><text x="667" y="274.3">5</text><text x="667" y="326.3">6</text><text x="667" y="378.3">7</text><text x="667" y="430.3">8</text><text x="667" y="482.3">9</text><text x="667" y="534.3">10</text><text x="667" y="586.3">11</text><text x="667" y="638.3">12</text><text x="667" y="690.3">13</text><text x="667" y="742.3">14</text><text x="667" y="794.3">15</text><text x="667" y="846.3">16</text><text x="667" y="898.3">17</text><text x="667" y="950.3">18</text><text x="667" y="1002.3">19</text><text x="667" y="1054.3">20</text><text x="667" y="1106.3">21</text><text x="667" y="1158.3">22</text><text x="667" y="1210.3">23</text><text x="667" y="1262.3">24</text><text x="667" y="1314.3">25</text><text x="667" y="1366.3">26</text><text x="667" y="1418.3">27</text><text x="667" y="1470.3">28</text><text x="667" y="1522.3">29</text><text x="667" y="1574.3">30</text><text x="667" y="1626.3">31</text><text x="667" y="1678.3">32</text><text x="667" y="1730.3">33</text><text x="667" y="1782.3">34</text><text x="667" y="1834.3">35</text><text x="667" y="1886.3">36</text><text x="667" y="1938.3">37</text><text x="667" y="1990.3">38</text><text x="667" y="2042.3">39</text><text x="667" y="2094.3">40</text><text x="667" y="2146.3">41</text><text x="667" y="2198.3">42</text><text x="667" y="2250.3">43</text>
</g>
<text id="watermark" class="wm" x="269" y="1185" textLength="154" lengthAdjust="spacingAndGlyphs">BRACELETBOOK.COM</text>
</svg>
